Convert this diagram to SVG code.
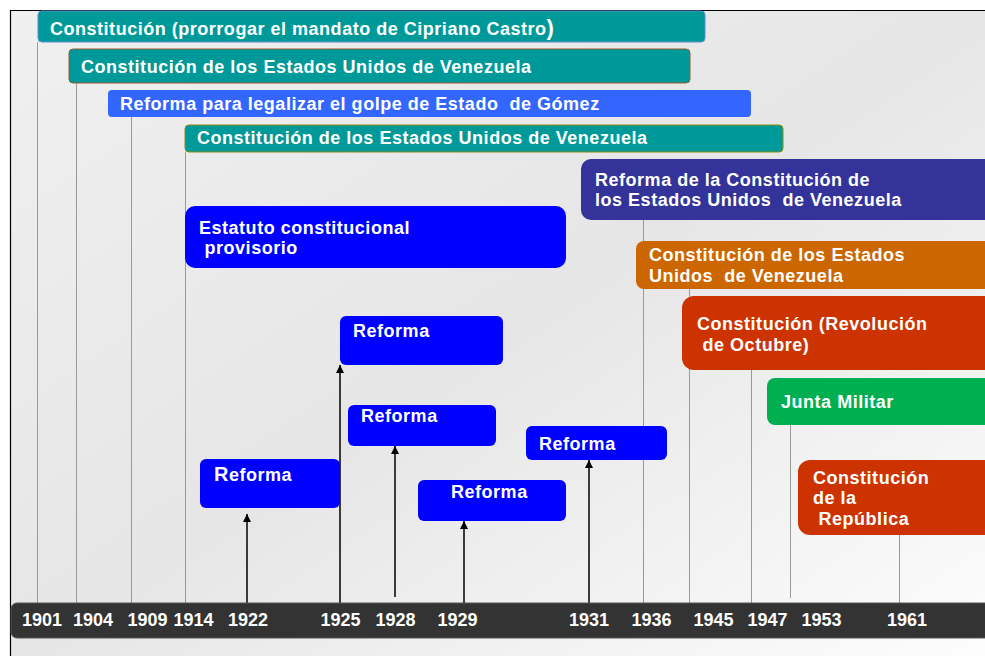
<svg xmlns="http://www.w3.org/2000/svg" width="985" height="656" viewBox="0 0 985 656">
<defs>
<linearGradient id="bg" x1="0" y1="0" x2="1" y2="1">
<stop offset="0" stop-color="#f0f0f0"/>
<stop offset="0.5" stop-color="#e6e6e6"/>
<stop offset="1" stop-color="#fdfdfd"/>
</linearGradient>
<marker id="ah" viewBox="0 0 10 10" refX="10" refY="5" markerWidth="8" markerHeight="8" markerUnits="userSpaceOnUse" orient="auto">
<path d="M0,0 L10,5 L0,10 Z" fill="#000"/>
</marker>
<style>
.t{font-family:"Liberation Sans",Arial,sans-serif;font-weight:bold;font-size:18px;fill:#fff;letter-spacing:0.52px}
.y{font-family:"Liberation Sans",Arial,sans-serif;font-weight:bold;font-size:18px;fill:#fff;text-anchor:middle}
.g{stroke:#999;stroke-width:1;fill:none}
.a{stroke:#000;stroke-width:1.5;fill:none;marker-end:url(#ah)}
.blue{fill:#0000ff}
</style>
</defs>
<rect x="0" y="0" width="985" height="656" fill="#fff"/>
<rect x="10" y="10" width="980" height="650" fill="url(#bg)"/>
<path d="M10.5,656 V10.5 H985" stroke="#000" stroke-width="1.2" fill="none"/>

<g id="connectors">
<line class="g" x1="37.5" y1="42" x2="37.5" y2="603"/>
<line class="g" x1="76.5" y1="83" x2="76.5" y2="603"/>
<line class="g" x1="131.5" y1="117" x2="131.5" y2="603"/>
<line class="g" x1="185.5" y1="152" x2="185.5" y2="603"/>
<line class="g" x1="643.5" y1="220" x2="643.5" y2="603"/>
<line class="g" x1="689.5" y1="289" x2="689.5" y2="603"/>
<line class="g" x1="751.5" y1="370" x2="751.5" y2="603"/>
<line class="g" x1="790.5" y1="425" x2="790.5" y2="598"/>
<line class="g" x1="899.5" y1="535" x2="899.5" y2="603"/>
<line class="a" x1="247" y1="603" x2="247" y2="514"/>
<line class="a" x1="340" y1="603" x2="340" y2="365"/>
<line class="a" x1="395" y1="597" x2="395" y2="446"/>
<line class="a" x1="464" y1="603" x2="464" y2="521"/>
<line class="a" x1="589" y1="603" x2="589" y2="460"/>
</g>

<g id="n1901">
<rect x="38" y="11" width="667" height="31" rx="4" fill="#009999" stroke="#5a8fd0" stroke-width="1"/>
<text class="t" x="50" y="35">Constitución (prorrogar el mandato de Cipriano Castro<tspan font-size="22">)</tspan></text>
</g>
<g id="n1904">
<rect x="69" y="49" width="621" height="34" rx="4" fill="#009999" stroke="#9a5a30" stroke-width="1"/>
<text class="t" x="81" y="73">Constitución de los Estados Unidos de Venezuela</text>
</g>
<g id="n1909">
<rect x="108" y="90" width="643" height="27" rx="4" fill="#3366ff"/>
<text class="t" x="120" y="110" xml:space="preserve">Reforma para legalizar el golpe de Estado  de Gómez</text>
</g>
<g id="n1914">
<rect x="185" y="125" width="598" height="27" rx="4" fill="#009999" stroke="#8a8a10" stroke-width="1"/>
<text class="t" x="197" y="144">Constitución de los Estados Unidos de Venezuela</text>
</g>
<g id="n1931c">
<rect x="581" y="159" width="420" height="61" rx="10" fill="#333399"/>
<text class="t" x="595" y="186" xml:space="preserve"><tspan x="595">Reforma de la Constitución de</tspan><tspan x="595" dy="20">los Estados Unidos  de Venezuela</tspan></text>
</g>
<g id="nEstatuto">
<rect x="185" y="206" width="381" height="62" rx="10" class="blue"/>
<text class="t" x="199" y="234" xml:space="preserve"><tspan x="199">Estatuto constitucional</tspan><tspan x="199" dy="20"> provisorio</tspan></text>
</g>
<g id="n1936">
<rect x="636" y="241" width="365" height="48" rx="8" fill="#cc6600"/>
<text class="t" x="649" y="261" xml:space="preserve"><tspan x="649">Constitución de los Estados</tspan><tspan x="649" dy="21">Unidos  de Venezuela</tspan></text>
</g>
<g id="n1945">
<rect x="682" y="296" width="320" height="74" rx="12" fill="#cc3300"/>
<text class="t" x="697" y="330" xml:space="preserve"><tspan x="697">Constitución (Revolución</tspan><tspan x="697" dy="21"> de Octubre)</tspan></text>
</g>
<g id="n1947">
<rect x="767" y="378" width="235" height="47" rx="8" fill="#00b050"/>
<text class="t" x="781" y="408">Junta Militar</text>
</g>
<g id="n1961">
<rect x="798" y="460" width="204" height="75" rx="12" fill="#cc3300"/>
<text class="t" x="813" y="484" xml:space="preserve"><tspan x="813">Constitución</tspan><tspan x="813" dy="20">de la</tspan><tspan x="813" dy="21"> República</tspan></text>
</g>
<g id="r1922">
<rect x="200" y="459" width="140" height="49" rx="6" class="blue"/>
<text class="t" x="214" y="481"><tspan font-size="20">R</tspan>eforma</text>
</g>
<g id="r1925">
<rect x="340" y="316" width="163" height="49" rx="6" class="blue"/>
<text class="t" x="353" y="337">Reforma</text>
</g>
<g id="r1928">
<rect x="348" y="405" width="148" height="41" rx="6" class="blue"/>
<text class="t" x="361" y="422">Reforma</text>
</g>
<g id="r1929">
<rect x="418" y="480" width="148" height="41" rx="6" class="blue"/>
<text class="t" x="451" y="498">Reforma</text>
</g>
<g id="r1931">
<rect x="526" y="426" width="141" height="34" rx="6" class="blue"/>
<text class="t" x="539" y="450">Reforma</text>
</g>

<g id="axis">
<rect x="11" y="603" width="990" height="35" rx="6" fill="#333333" stroke="#555" stroke-width="1"/>
<text class="y" x="42" y="626">1901</text>
<text class="y" x="93" y="626">1904</text>
<text class="y" x="147.5" y="626">1909</text>
<text class="y" x="193.5" y="626">1914</text>
<text class="y" x="248" y="626">1922</text>
<text class="y" x="340.5" y="626">1925</text>
<text class="y" x="395.5" y="626">1928</text>
<text class="y" x="457.5" y="626">1929</text>
<text class="y" x="589" y="626">1931</text>
<text class="y" x="651.5" y="626">1936</text>
<text class="y" x="713.5" y="626">1945</text>
<text class="y" x="767.5" y="626">1947</text>
<text class="y" x="821.5" y="626">1953</text>
<text class="y" x="907" y="626">1961</text>
</g>
</svg>
